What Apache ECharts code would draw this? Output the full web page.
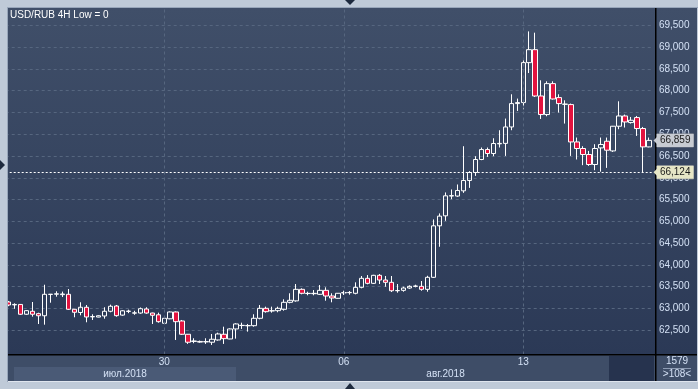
<!DOCTYPE html>
<html><head><meta charset="utf-8">
<script src="https://cdn.jsdelivr.net/npm/echarts@6/dist/echarts.min.js"></script>
<style>
html,body{margin:0;padding:0;background:#bfcad8;width:698px;height:389px;overflow:hidden;}
#bg{position:absolute;left:8px;top:8px;width:689px;height:347px;background:linear-gradient(#404f69,#2b3956);}
#strip{position:absolute;left:8px;top:355px;width:689px;height:26px;background:#3e4d67;}
#edgeL{position:absolute;left:7px;top:7px;width:1px;height:375px;background:#98a6ba;}
#edgeT{position:absolute;left:7px;top:7px;width:691px;height:1px;background:#98a6ba;}
#edgeB{position:absolute;left:7px;top:381px;width:691px;height:1px;background:#dfe5ee;}
#c{position:absolute;left:0;top:0;width:698px;height:389px;}
</style>
</head><body>
<div id="bg"></div><div id="strip"></div><div id="edgeL"></div><div id="edgeT"></div><div id="edgeB"></div>
<div id="c"></div>
<script>
// ---- data ----
const days = ['2018-07-23','2018-07-24','2018-07-25','2018-07-26','2018-07-27',
  '2018-07-30','2018-07-31','2018-08-01','2018-08-02','2018-08-03',
  '2018-08-06','2018-08-07','2018-08-08','2018-08-09','2018-08-10',
  '2018-08-13','2018-08-14','2018-08-15','2018-08-16'];
const hours = ['00:00','04:00','08:00','12:00','16:00','20:00'];
let allSlots = [];
days.forEach(d => hours.forEach(h => allSlots.push(d + ' ' + h)));
const categories = allSlots.slice(4, 112);

const opens = [63146,63080,63090,62865,62933,62878,62830,63320,63325,63315,63323,62979,62905,63025,62805,62800,62825,62933,63054,62845,
  62930,62890,62893,62985,62893,62852,62657,62760,62917,62710,62405,62240,62240,62230,62222,62274,62405,62297,62527,62605,
  62600,62602,62772,63001,62940,62947,62978,63139,63172,63437,63340,63337,63323,63414,63284,63231,63355,63360,63346,63483,
  63690,63575,63759,63651,63598,63405,63414,63467,63506,63506,63437,63713,64896,65126,65580,65580,65700,65938,66121,66420,
  66649,66557,66780,66790,67167,67704,67727,68645,68943,67879,67452,68163,67842,67688,67681,66823,66672,66534,66305,66686,
  66839,66617,67184,67420,67268,67383,67131,66709];
const closes = [63077,63090,62865,62947,62865,62830,63323,63325,63335,63330,62979,62910,63025,62802,62812,62830,62933,63048,62832,62944,
  62937,62897,62992,62893,62841,62694,62772,62917,62694,62405,62222,62251,62225,62236,62290,62412,62304,62527,62642,62610,
  62605,62772,63001,62924,62947,63001,63139,63185,63437,63346,63345,63345,63414,63284,63238,63346,63362,63366,63483,63690,
  63575,63759,63651,63598,63405,63410,63467,63506,63513,63437,63713,64896,65119,65585,65590,65708,65938,66121,66420,66649,
  66557,66787,66790,67167,67704,67727,68645,68943,67879,67452,68163,67810,67704,67692,66823,66672,66534,66305,66672,66764,
  66633,67184,67420,67282,67321,67131,66709,66859];
const lows = [63050,62990,62850,62850,62810,62640,62625,63130,63268,63260,62963,62795,62841,62680,62733,62795,62763,62910,62809,62830,
  62890,62852,62877,62877,62641,62671,62645,62750,62274,62390,62183,62199,62210,62183,62160,62258,62183,62290,62304,62527,
  62465,62579,62749,62901,62901,62910,62947,63116,63153,63323,63300,63300,63307,63176,63139,63225,63307,63314,63323,63460,
  63552,63560,63559,63497,63375,63360,63383,63451,63483,63405,63382,63700,64415,65011,65509,65562,65653,65768,66043,66404,
  66479,66495,66695,66502,67092,67535,67574,68406,67856,67351,67413,67796,67498,67245,66502,66420,66289,66273,66174,66140,
  66227,66594,67115,67154,67245,66961,66124,66700];
const highs = [63170,63116,63100,62960,63146,62900,63543,63330,63392,63385,63444,62985,63140,63077,62864,62840,63025,63085,63077,62960,
  62970,62944,63020,63025,62900,62901,62780,62930,62930,62733,62410,62313,62260,62313,62412,62442,62579,62540,62658,62671,
  62642,62864,63077,63039,63039,63039,63208,63346,63559,63460,63383,63421,63536,63483,63346,63350,63406,63398,63598,63743,
  63765,63770,63788,63743,63743,63559,63497,63529,63543,63628,63749,65043,65181,65663,65731,65846,66725,66151,66495,66695,
  66695,66908,67092,67360,67918,67819,68720,69363,69333,68239,68216,68216,67918,67780,67704,66924,66725,66617,66771,66924,
  66924,67190,67757,67452,67397,67420,67168,66924];

const yTicks = [62500,63000,63500,64000,64500,65000,65500,66000,66500,67000,67500,68000,68500,69000,69500];
const tickCats = ['2018-07-30 00:00','2018-08-06 00:00','2018-08-13 00:00'];
const tickLabels = ['30','06','13'];
const monthNames = ['июл.2018','авг.2018'];
const monthStart = '2018-08-01 00:00';
const lastPrice = 66859;
const lowLine = 66124;
const title = 'USD/RUB 4H Low = 0';
const barsTotal = '1579';
const barsVisible = '>108<';

// ---- chart ----
const FONT = '"Liberation Sans", Arial, sans-serif';
const FS = 10;
const LBL = '#d3e0f4';
const GRID = '#56667f';
const TAG_LOW = '#e6e6c6';
const TAG_LAST = '#c7cbd2';
const fmt = v => String(v).replace(/\B(?=(\d{3})+(?!\d))/g, ',');
const candleData = opens.map((o, i) => [o, closes[i], lows[i], highs[i]]);

const tagLabel = (v, bg) => ({
  show: true, position: 'end', distance: 5, formatter: fmt(v),
  backgroundColor: bg, color: '#1b1b1b', fontSize: FS, fontFamily: FONT,
  padding: [2, 3, 1, 3], borderColor: '#8a909a', borderWidth: 0.5
});

const chart = echarts.init(document.getElementById('c'), null, {renderer: 'canvas'});
const option = {
  animation: false,
  backgroundColor: 'transparent',
  grid: {left: 5.7, width: 646.2, top: 8, bottom: 34.5},
  xAxis: {
    type: 'category', data: categories, boundaryGap: true,
    axisLine: {show: false}, axisTick: {show: false}, splitLine: {show: false},
    axisLabel: {
      interval: (i, v) => tickCats.indexOf(v) >= 0,
      formatter: v => tickLabels[tickCats.indexOf(v)] || '',
      color: LBL, fontSize: FS, fontFamily: FONT, margin: 3
    }
  },
  yAxis: {
    type: 'value', position: 'right', offset: 4, min: 61940, max: 69900, scale: true,
    axisLine: {show: false},
    axisTick: {show: false, customValues: yTicks},
    axisLabel: {customValues: yTicks, formatter: fmt, color: LBL, fontSize: FS, fontFamily: FONT, margin: 3},
    splitLine: {show: true, lineStyle: {color: GRID, type: [3, 3], width: 1}}
  },
  series: [
    {
      type: 'line', data: [], z: 1, silent: true,
      markLine: {
        symbol: 'none', silent: true, animation: false,
        label: {show: false},
        lineStyle: {color: GRID, type: [3, 3], width: 1},
        data: tickCats.map(c => ({xAxis: c}))
      }
    },
    {
      type: 'candlestick', data: candleData, barWidth: 5, z: 3,
      itemStyle: {color: 'rgba(0,0,0,0)', color0: '#e3133f', borderColor: '#ffffff', borderColor0: '#ffffff', borderWidth: 1},
      markLine: {
        symbol: 'none', silent: true, animation: false,
        data: [
          {yAxis: lowLine, lineStyle: {color: '#ffffff', type: [2, 2], width: 1}, label: tagLabel(lowLine, TAG_LOW)},
          {yAxis: lastPrice, lineStyle: {color: 'rgba(0,0,0,0)', width: 0}, label: tagLabel(lastPrice, TAG_LAST)}
        ]
      }
    }
  ]
};
chart.setOption(option);

const split = chart.convertToPixel({xAxisIndex: 0}, monthStart);
const yLow = chart.convertToPixel({yAxisIndex: 0}, lowLine);
const yLast = chart.convertToPixel({yAxisIndex: 0}, lastPrice);
const txt = (x, y, text, fill, align) => ({
  type: 'text', z: 6, x: x, y: y,
  style: {text: text, fill: fill, font: FS + 'px ' + FONT, align: align, verticalAlign: 'middle'}
});
const arrow = (y, fill) => ({type: 'polygon', z: 20, shape: {points: [[653.5, y], [657.5, y - 4], [657.5, y + 4]]}, style: {fill: fill}});
chart.setOption({
  graphic: [
    {type: 'rect', z: 100, shape: {x: 0, y: 0, width: 7, height: 389}, style: {fill: '#bfcad8'}},
    {type: 'rect', z: 100, shape: {x: 7, y: 8, width: 1, height: 374}, style: {fill: '#98a6ba'}},
    {type: 'rect', z: 5, shape: {x: 8, y: 354, width: 689, height: 1.5}, style: {fill: '#000'}},
    {type: 'rect', z: 5, shape: {x: 655, y: 8, width: 1.5, height: 373}, style: {fill: '#000'}},
    {type: 'rect', z: 4, shape: {x: 14, y: 367, width: split - 14, height: 14}, style: {fill: '#4a5a76'}},
    txt((14 + split) / 2, 374, monthNames[0], LBL, 'center'),
    txt((split + 655) / 2, 374, monthNames[1], LBL, 'center'),
    {type: 'rect', z: 5, shape: {x: 609, y: 356, width: 45, height: 25}, style: {fill: '#26334e'}},
    txt(10, 15, title, '#ffffff', 'left'),
    txt(677, 361.5, barsTotal, LBL, 'center'),
    {type: 'rect', z: 6, shape: {x: 663, y: 368, width: 28, height: 1}, style: {fill: '#8d9bb3'}},
    txt(677, 374.5, barsVisible, LBL, 'center'),
    arrow(yLow, TAG_LOW),
    arrow(yLast, TAG_LAST),
    {type: 'polygon', z: 100, shape: {points: [[345, 0], [355, 0], [350, 5]]}, style: {fill: '#1d2a3e'}},
    {type: 'polygon', z: 100, shape: {points: [[345, 389], [355, 389], [350, 383]]}, style: {fill: '#1d2a3e'}},
    {type: 'polygon', z: 100, shape: {points: [[0, 160], [0, 170], [5, 165]]}, style: {fill: '#1d2a3e'}}
  ]
});
</script>
</body></html>
